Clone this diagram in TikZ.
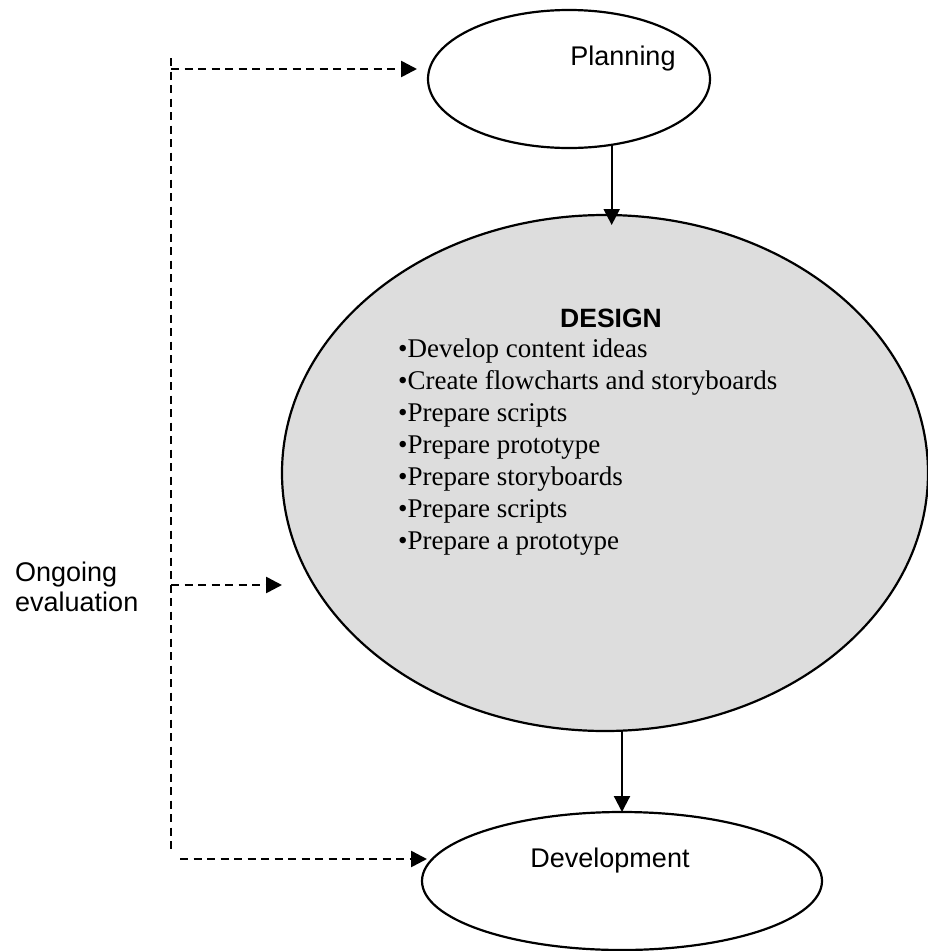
\documentclass[tikz,border=0pt]{standalone}
\usepackage{fontspec}
\setmainfont{Liberation Serif}
\setsansfont{Liberation Sans}
\usetikzlibrary{arrows.meta,shapes.geometric}
\definecolor{designgray}{RGB}{221,221,221}
\tikzset{
    phase/.style={ellipse, draw=black, line width=2.2pt, inner sep=0pt, outer sep=0pt},
    arr/.style={line width=2.2pt, -{Triangle[length=16pt,width=16pt]}},
    evaldash/.style={line width=2.6pt, dash pattern=on 8pt off 5.5pt},
    evalarr/.style={evaldash, -{Triangle[length=16pt,width=16pt]}},
    sanstext/.style={font=\sffamily\fontsize{27pt}{30pt}\selectfont, inner sep=0pt},
    bullettext/.style={font=\rmfamily\fontsize{27pt}{32pt}\selectfont, inner sep=0pt, anchor=base west}
}
\begin{document}
\begin{tikzpicture}[x=1pt,y=-1pt]
                % Page frame
                \useasboundingbox (0,0) rectangle (928,951);

                % The three phases
                \node[phase, minimum width=282pt, minimum height=138pt] (plan) at (569,79) {};
                \node[phase, fill=designgray, minimum width=646pt, minimum height=516pt] (design) at (605,473) {};
                \node[phase, minimum width=400pt, minimum height=138pt] (dev) at (622,881) {};

                % Phase labels
                \node[sanstext, anchor=base] (plantxt) at (623,65) {Planning};
                \node[sanstext, anchor=base, font=\sffamily\bfseries\fontsize{26.5pt}{30pt}\selectfont] (designtxt) at (611,327) {DESIGN};
                \node[sanstext, anchor=base] (devtxt) at (610,867) {Development};

                % Design tasks
                \foreach \task [count=\i from 0] in {Develop content ideas, Create flowcharts and storyboards, Prepare scripts, Prepare prototype, Prepare storyboards, Prepare scripts, Prepare a prototype} {
                    \node[bullettext] (task\i) at (398,{357+32*\i}) {\textbullet\task};
                }

                % Main flow
                \draw[arr, shorten >=-10pt] (plan.-57) -- (plan.-57 |- design.north);
                \draw[arr] (design.south -| dev.north) -- (dev.north);

                % Ongoing evaluation
                \node[sanstext, anchor=north west, align=left] (evaltxt) at (15,562) {Ongoing\\evaluation};
                \coordinate (evtop) at (171,58);
                \coordinate (evbot) at (171,850);
                \draw[evaldash] (evtop) -- (evbot);
                \coordinate (ev1) at (171,69);
                \coordinate (ev2) at (171,585);
                \coordinate (ev3) at (180,859);
                \draw[evalarr, shorten >=11pt] (ev1) -- (ev1 -| plan.west);
                \draw[evalarr] (ev2) -- (ev2 -| design.west);
                \draw[evalarr, shorten >=-5pt] (ev3) -- (ev3 -| dev.west);
            \end{tikzpicture}
\end{document}
